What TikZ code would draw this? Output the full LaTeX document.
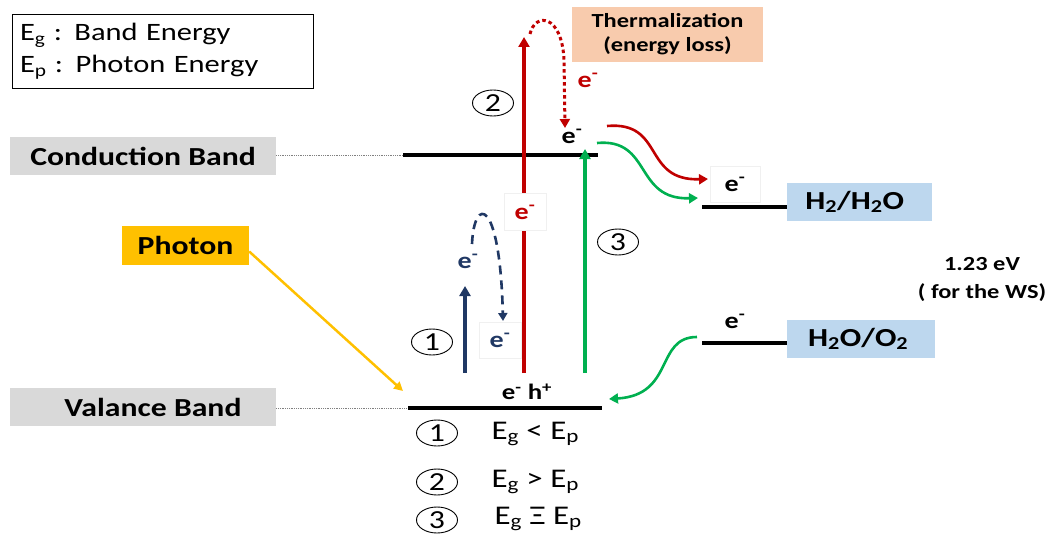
\documentclass[tikz,border=0pt]{standalone}
\usepackage{fontspec}
\setmainfont{Carlito}[FakeStretch=1.22]
\usepackage{xcolor}
\usetikzlibrary{arrows.meta, positioning, shapes.geometric}

\definecolor{bandgray}{HTML}{D9D9D9}
\definecolor{photonyellow}{HTML}{FFC000}
\definecolor{thermpeach}{HTML}{F8CBAD}
\definecolor{redoxblue}{HTML}{BDD7EE}
\definecolor{navyarrow}{HTML}{203864}
\definecolor{redarrow}{HTML}{C00000}
\definecolor{greenarrow}{HTML}{00B050}

\begin{document}
\begin{tikzpicture}[
    x=1pt, y=-1pt,
    lvl/.style={line width=4.5pt},
    guide/.style={densely dotted, gray, line width=0.8pt},
    bandlbl/.style={fill=bandgray, minimum width=266pt, minimum height=38pt, inner sep=0pt, font=\fontsize{26}{28}\selectfont\bfseries},
    redox/.style={fill=redoxblue, minimum width=145pt, minimum height=38pt, inner sep=0pt, anchor=west, font=\fontsize{26}{28}\selectfont\bfseries},
    elec/.style={font=\fontsize{23}{24}\selectfont\bfseries, inner sep=2pt},
    ebox/.style={elec, fill=white, draw=black!6, minimum width=42pt, minimum height=36pt},
    num/.style={ellipse, draw, line width=0.9pt, minimum width=41pt, minimum height=26pt, inner sep=0pt, font=\fontsize{26}{26}\selectfont},
    cond/.style={anchor=west, font=\fontsize{27}{28}\selectfont},
    arr/.style={line width=3.2pt, -{Triangle[length=10pt, width=11pt]}},
    thin arr/.style={line width=2.6pt, -{Triangle[length=9pt, width=10pt]}}
]
\useasboundingbox (0,0) rectangle (1049,535);

% legend
\node[draw, line width=0.9pt, minimum width=301pt, minimum height=74pt, text width=285pt, align=left,
      font=\fontsize{25}{32}\selectfont] (legend) at (162.5,51)
      {E\textsubscript{g} : Band Energy\\E\textsubscript{p} : Photon Energy};

% band labels and levels
\node[bandlbl] (cb) at (143,156) {Conduction Band};
\node[bandlbl] (vb) at (143,407) {\hspace*{20pt}Valance Band};
\coordinate (cbl) at (403,155);
\coordinate (cbr) at (598,155);
\coordinate (vbl) at (408,408);
\coordinate (vbr) at (602,408);
\draw[guide] (cb.east |- cbl) -- (cbl);
\draw[guide] (vb.east |- vbl) -- (vbl);
\draw[lvl] (cbl) -- (cbr);
\draw[lvl] (vbl) -- (vbr);

% redox levels
\coordinate (h2l) at (702,207);
\coordinate (h2r) at (787,207);
\coordinate (o2l) at (702,343);
\coordinate (o2r) at (787,343);
\draw[lvl] (h2l) -- (h2r);
\draw[lvl] (o2l) -- (o2r);
\node[redox] (h2) at (787,202) {\hspace*{-10pt}H\textsubscript{2}/H\textsubscript{2}O};
\node[redox, minimum width=148pt] (o2) at (787,339) {\hspace*{-6pt}H\textsubscript{2}O/O\textsubscript{2}};
\node[font=\fontsize{20}{28}\selectfont\bfseries, align=center] (ws) at (982,279) {1.23 eV\\( for the WS)};

% photon
\node[fill=photonyellow, minimum width=127pt, minimum height=39pt, inner sep=0pt,
      font=\fontsize{26}{28}\selectfont\bfseries] (photon) at (185.5,245.5) {Photon};
\coordinate (phtip) at (403,391);
\draw[photonyellow, line width=2.5pt, -{Triangle[length=9pt, width=9pt]}] (photon.east) ++(0,6) -- (phtip);

% thermalization
\node[fill=thermpeach, minimum width=191pt, minimum height=55pt, align=center,
      font=\fontsize{20}{24}\selectfont\bfseries] (therm) at (667.5,34.5) {Thermalization\\(energy loss)};

% case 1
\coordinate (b1s) at (465,373);
\coordinate (b1e) at (465,286);
\draw[arr, navyarrow] (b1s) -- (b1e);
\node[elec, text=navyarrow] (eb1) at (468,261) {e\textsuperscript{-}};
\node[ebox, text=navyarrow] (eb2) at (500,340) {e\textsuperscript{-}};
\coordinate (bd1) at (472,244);
\coordinate (bd2) at (503,321);
\draw[navyarrow, line width=2.6pt, dash pattern=on 9pt off 6pt, -{Triangle[length=8pt, width=9pt]}]
    (bd1) .. controls (474,196) and (500,196) .. (bd2);
\node[num] (n1) at (432,342) {1};

% case 2
\coordinate (r2s) at (524,373);
\coordinate (r2e) at (524,37);
\draw[arr, redarrow] (r2s) -- (r2e);
\node[ebox, text=redarrow, minimum height=37pt] (er1) at (525,212) {e\textsuperscript{-}};
\node[elec, text=redarrow, fill=white] (er2) at (588,80) {e\textsuperscript{-}};
\coordinate (rd1) at (530,34);
\coordinate (rd2) at (565,128);
\draw[redarrow, line width=3pt, dash pattern=on 3.5pt off 3pt, -{Triangle[length=9pt, width=10pt]}]
    (rd1) .. controls (535,12) and (562,14) .. (564,60) -- (rd2);
\node[num] (n2) at (493,103) {2};
\node[elec] (ecb) at (572,136) {e\textsuperscript{-}};

% case 3
\coordinate (g3s) at (585,373);
\coordinate (g3e) at (585,149);
\draw[arr, greenarrow] (g3s) -- (g3e);
\node[num] (n3) at (618,242) {3};

% transfer to the redox levels
\node[ebox, minimum width=50pt] (eh2) at (735,184) {e\textsuperscript{-}};
\node[elec] (eo2) at (735,321) {e\textsuperscript{-}};
\coordinate (rt1) at (607,126);
\coordinate (rt2) at (708,179);
\draw[thin arr, redarrow] (rt1) .. controls (665,121) and (642,181) .. (rt2);
\coordinate (gt1) at (597,143);
\coordinate (gt2) at (698,198);
\draw[thin arr, greenarrow] (gt1) .. controls (652,138) and (634,200) .. (gt2);
\coordinate (go1) at (697,337);
\coordinate (go2) at (609,399);
\draw[thin arr, greenarrow] (go1) .. controls (655,337) and (675,395) .. (go2);
\node[font=\fontsize{22}{24}\selectfont\bfseries] (pair) at (527,392) {e\textsuperscript{-} h\textsuperscript{+}};

% conditions
\node[num] (c1) at (437,433) {1};
\node[num] (c2) at (437,482) {2};
\node[num] (c3) at (437,520) {3};
\node[cond] (t1) at (488,434) {E\textsubscript{g} < E\textsubscript{p}};
\node[cond] (t2) at (488,482) {E\textsubscript{g} > E\textsubscript{p}};
\node[cond] (t3) at (491,519) {E\textsubscript{g} Ξ E\textsubscript{p}};
\end{tikzpicture}
\end{document}
